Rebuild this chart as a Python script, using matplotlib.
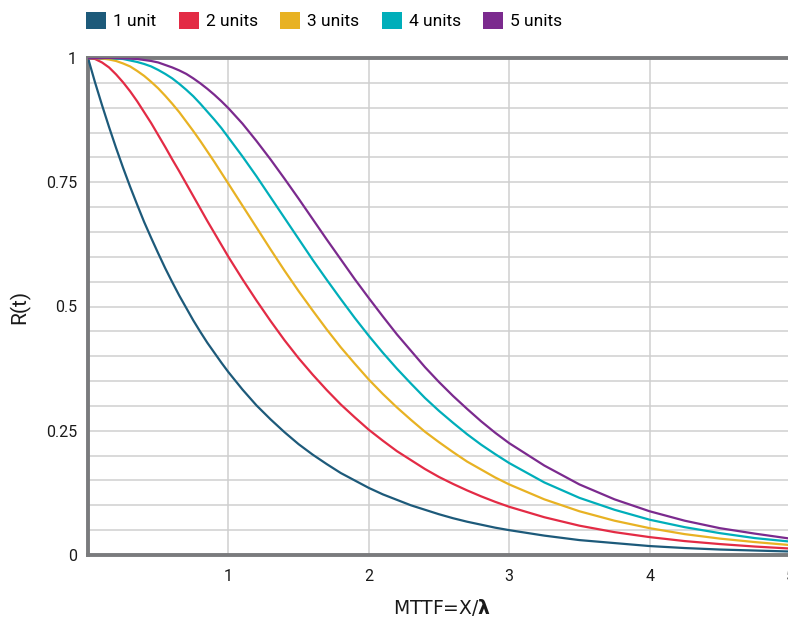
import matplotlib
matplotlib.use("Agg")
import matplotlib.pyplot as plt
from matplotlib.patches import Patch

# x positions (MTTF multiples) and R(t)
x = [0.0, 0.05, 0.1, 0.15, 0.2, 0.25, 0.3, 0.35, 0.4, 0.45,
     0.5, 0.55, 0.6, 0.65, 0.7, 0.75, 0.8, 0.85, 0.9, 0.95,
     1.0, 1.1, 1.2, 1.3, 1.4, 1.5, 1.6, 1.7, 1.8, 1.9,
     2.0, 2.1, 2.2, 2.3, 2.4, 2.5, 2.6, 2.7, 2.8, 2.9,
     3.0, 3.25, 3.5, 3.75, 4.0, 4.25, 4.5, 4.75, 5.0]

r1 = [1.000, 0.951, 0.905, 0.861, 0.819, 0.779, 0.741, 0.705, 0.670, 0.638,
      0.607, 0.577, 0.549, 0.522, 0.497, 0.472, 0.449, 0.427, 0.407, 0.387,
      0.368, 0.333, 0.301, 0.273, 0.247, 0.223, 0.202, 0.183, 0.165, 0.150,
      0.135, 0.122, 0.111, 0.100, 0.091, 0.082, 0.074, 0.067, 0.061, 0.055,
      0.050, 0.039, 0.030, 0.024, 0.018, 0.014, 0.011, 0.009, 0.007]
r2 = [1.000, 0.998, 0.991, 0.981, 0.967, 0.951, 0.933, 0.913, 0.891, 0.869,
      0.845, 0.821, 0.796, 0.772, 0.747, 0.722, 0.697, 0.672, 0.648, 0.624,
      0.600, 0.555, 0.512, 0.471, 0.432, 0.396, 0.363, 0.332, 0.303, 0.277,
      0.252, 0.230, 0.209, 0.191, 0.173, 0.157, 0.143, 0.130, 0.118, 0.107,
      0.097, 0.076, 0.059, 0.046, 0.036, 0.028, 0.022, 0.017, 0.013]
r3 = [1.000, 1.000, 0.999, 0.997, 0.994, 0.989, 0.983, 0.974, 0.964, 0.952,
      0.939, 0.924, 0.908, 0.891, 0.872, 0.853, 0.833, 0.812, 0.791, 0.769,
      0.747, 0.703, 0.659, 0.615, 0.572, 0.531, 0.492, 0.454, 0.418, 0.385,
      0.353, 0.324, 0.297, 0.272, 0.248, 0.227, 0.207, 0.188, 0.172, 0.156,
      0.142, 0.112, 0.088, 0.069, 0.054, 0.042, 0.033, 0.026, 0.020]
r4 = [1.000, 1.000, 1.000, 1.000, 0.999, 0.998, 0.995, 0.992, 0.988, 0.983,
      0.976, 0.968, 0.959, 0.948, 0.936, 0.923, 0.908, 0.892, 0.876, 0.859,
      0.840, 0.802, 0.762, 0.720, 0.678, 0.636, 0.594, 0.554, 0.515, 0.477,
      0.441, 0.407, 0.375, 0.345, 0.316, 0.290, 0.266, 0.243, 0.222, 0.203,
      0.185, 0.146, 0.115, 0.091, 0.071, 0.056, 0.044, 0.034, 0.027]
r5 = [1.000, 1.000, 1.000, 1.000, 1.000, 0.999, 0.999, 0.998, 0.996, 0.994,
      0.991, 0.986, 0.981, 0.975, 0.968, 0.959, 0.949, 0.938, 0.926, 0.913,
      0.899, 0.868, 0.833, 0.796, 0.757, 0.717, 0.676, 0.635, 0.595, 0.555,
      0.517, 0.480, 0.444, 0.411, 0.378, 0.348, 0.320, 0.294, 0.269, 0.246,
      0.225, 0.180, 0.142, 0.112, 0.088, 0.069, 0.054, 0.043, 0.033]

series = [r1, r2, r3, r4, r5]
labels = ["1 unit", "2 units", "3 units", "4 units", "5 units"]
colors = ["#1d5a7a", "#e32b45", "#e8b223", "#00aeba", "#7b2a8e"]

xticks = [1, 2, 3, 4, 5]
yticks = [0, 0.25, 0.5, 0.75, 1]
yticklabels = ["0", "0.25", "0.5", "0.75", "1"]

plt.rcParams["font.family"] = ["Roboto", "DejaVu Sans"]
plt.rcParams["mathtext.fontset"] = "dejavusans"

W, H = 788, 619
fig = plt.figure(figsize=(W / 100, H / 100), dpi=100)
ax = fig.add_axes([88 / W, (H - 555) / H, 702 / W, 497 / H])

for ys, c in zip(series, colors):
    ax.plot(x, ys, color=c, lw=1.6, solid_capstyle="round", zorder=3)

ax.set_xlim(0, 5)
ax.set_ylim(0, 1)
ax.set_xticks(xticks)
ax.set_xticks([], minor=True)
ax.set_yticks(yticks)
ax.set_yticklabels(yticklabels)
ax.set_yticks([i * 0.05 for i in range(21)], minor=True)

ax.grid(which="major", color="#cfcfcf", lw=1.1)
ax.grid(which="minor", axis="y", color="#cfcfcf", lw=1.1)
ax.set_axisbelow(True)

ax.tick_params(which="both", length=0)
ax.tick_params(axis="y", pad=8, labelsize=11.5, labelcolor="#1a1a1a")
ax.tick_params(axis="x", pad=10, labelsize=11.5, labelcolor="#1a1a1a")

for side in ["left", "bottom", "top"]:
    ax.spines[side].set_color("#7a7b7d")
    ax.spines[side].set_linewidth(2.8)
ax.spines["right"].set_visible(False)

ax.set_ylabel("R(t)", fontsize=15, color="#1a1a1a")
ax.yaxis.set_label_coords((30 - 88) / 702, 0.5)
ax.set_xlabel(r"MTTF=X/$\boldsymbol{\lambda}$", fontsize=13.5,
              family="DejaVu Sans", color="#1a1a1a")
ax.xaxis.set_label_coords((442 - 88) / 702, -0.085)

handles = [Patch(facecolor=c, edgecolor="none") for c in colors]
fig.legend(handles, labels, loc="upper left", ncol=5,
           bbox_to_anchor=(86 / W, 1 - 12 / H), frameon=False,
           fontsize=12.5, handlelength=1.15, handleheight=1.15,
           handletextpad=0.4, columnspacing=1.3,
           borderpad=0, borderaxespad=0)

fig.savefig("out.png", dpi=100)
